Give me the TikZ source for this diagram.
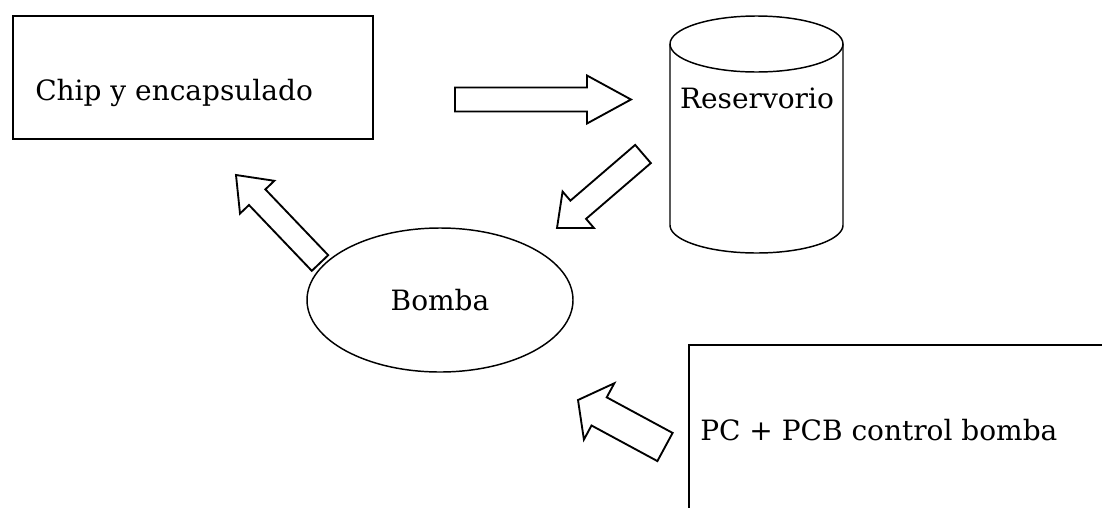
\documentclass[tikz,border=0pt]{standalone}
\usepackage{fontspec}
\setmainfont{DejaVu Serif}
\usetikzlibrary{calc,shapes.geometric}

% Hollow block arrow: #1 tail, #2 tip, #3 half shaft width,
% #4 half head width, #5 head length
\newcommand{\blockarrow}[5]{%
  \coordinate (hb) at ($(#2)!#5!(#1)$);
  \draw[blk] ($(#1)!#3!90:(#2)$) -- ($(hb)!#3!90:(#2)$) -- ($(hb)!#4!90:(#2)$)
    -- (#2) -- ($(hb)!#4!-90:(#2)$) -- ($(hb)!#3!-90:(#2)$)
    -- ($(#1)!#3!-90:(#2)$) -- cycle;
}

\begin{document}
\begin{tikzpicture}[x=0.75pt,y=-0.75pt,
  box/.style={draw,line width=1.4pt,inner sep=0pt},
  txt/.style={font=\fontsize{21}{25}\selectfont,inner sep=0pt},
  blk/.style={draw,line width=1.4pt,line join=miter,fill=white}]

\useasboundingbox (0,0) rectangle (1102,507);
\clip (0,0) rectangle (1102,507);

% chip and package
\node[box,anchor=north west,minimum width=270pt,minimum height=92.25pt] (chip) at (12,15) {};
\node[txt,anchor=base west] (chiptext) at (35,100) {Chip y encapsulado};

% reservoir (cylinder)
\draw[line width=1.1pt] (756.5,44) ellipse[x radius=64.875pt,y radius=21pt];
\draw[line width=1.1pt] (670,44) -- (670,225)
  -- plot[domain=180:360,samples=73] ({756.5+86.5*cos(\x)},{225-28*sin(\x)})
  -- (843,44);
\node[txt,anchor=base] (res) at (757,108) {Reservorio};

% pump
\node[draw,ellipse,line width=1.1pt,minimum width=199.5pt,minimum height=108pt,
  inner sep=0pt,font=\fontsize{21}{25}\selectfont] (bomba) at (440,300) {Bomba};

% PC + pump control board
\node[box,anchor=north west,minimum width=375pt,minimum height=150pt] (pc) at (688,344) {};
\node[txt,anchor=base west] (pctext) at (700,440) {PC + PCB control bomba};

% flow arrows
\coordinate (a1s) at (455,99.5);
\coordinate (a1e) at (631,99.5);
\coordinate (a2s) at (643,154);
\coordinate (a2e) at (557,228);
\coordinate (a3s) at (320,263);
\coordinate (a3e) at (236,175);
\coordinate (a4s) at (665,447);
\coordinate (a4e) at (578,400);

\blockarrow{a1s}{a1e}{9pt}{18pt}{33pt}
\blockarrow{a2s}{a2e}{9pt}{18pt}{21pt}
\blockarrow{a3s}{a3e}{8.5pt}{17.8pt}{23pt}
\blockarrow{a4s}{a4e}{12pt}{24pt}{18pt}
\end{tikzpicture}
\end{document}
